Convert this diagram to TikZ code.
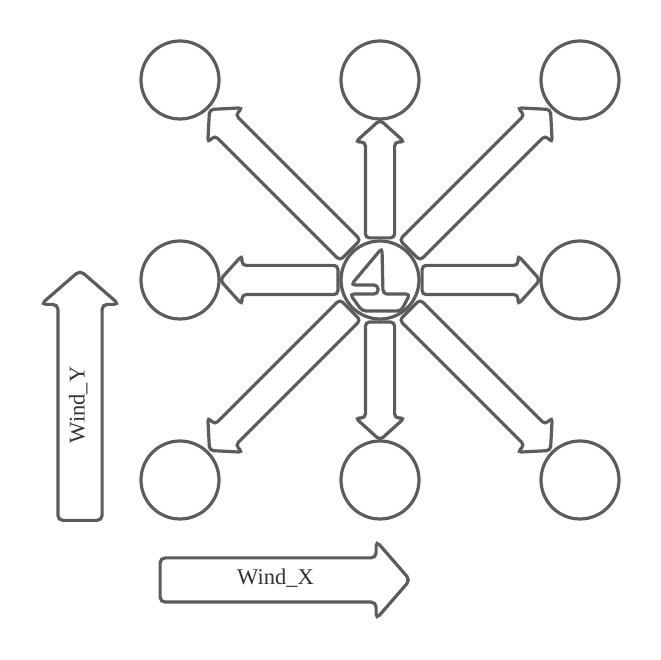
\documentclass[tikz,border=0pt]{standalone}
\usepackage{fontspec}
\setmainfont{Liberation Serif}
\usetikzlibrary{positioning,shapes.arrows}
\definecolor{linegray}{HTML}{5C5C5C}
\definecolor{textgray}{HTML}{333333}
\tikzset{
  target/.style={circle,draw=linegray,line width=3.2pt,minimum size=78pt,inner sep=0pt},
  move/.style={single arrow,draw=linegray,line width=3.2pt,rounded corners=4pt,inner xsep=0pt,inner ysep=13pt,
    single arrow head extend=10pt,single arrow tip angle=96,anchor=tail},
  wind/.style={single arrow,draw=linegray,line width=3.2pt,rounded corners=5pt,inner xsep=0pt,inner ysep=11pt,
    text height=14pt,text depth=5pt,minimum height=250pt,single arrow head extend=17pt,single arrow tip angle=98,
    text=textgray,font=\fontsize{22.5}{22.5}\selectfont},
}
\begin{document}
\begin{tikzpicture}[x=1pt,y=1pt]
\useasboundingbox (0,0) rectangle (660,660);
\node[target] (boat) at (380,380) {};
% targets around the boat
\foreach \name/\px/\py in {nw/180/580,n/380/580,ne/580/580,w/180/380,e/580/380,sw/180/180,s/380/180,se/580/180}
  \node[target] (\name) at (\px,\py) {};
% moves
\foreach \ang/\len in {0/118,90/118,180/118,270/118,45/199,135/199,225/199,315/199}
  \node[move,minimum height=\len pt,rotate=\ang] (move\ang) at ([shift={(\ang:40.5)}]boat.center) {};
% the boat
\draw[linegray,line width=3.2pt,rounded corners=4pt] (382,412) -- (351,375) -- (378,375) -- (378,366)
  -- (350,366) -- (362,349) -- (401,349) -- (410,366) -- (383,366) -- cycle;
\node[wind,rotate=90] (windy) at (80,255) {Wind\_Y};
\node[wind] (windx) at (275.5,80) {Wind\_X};
\end{tikzpicture}
\end{document}
